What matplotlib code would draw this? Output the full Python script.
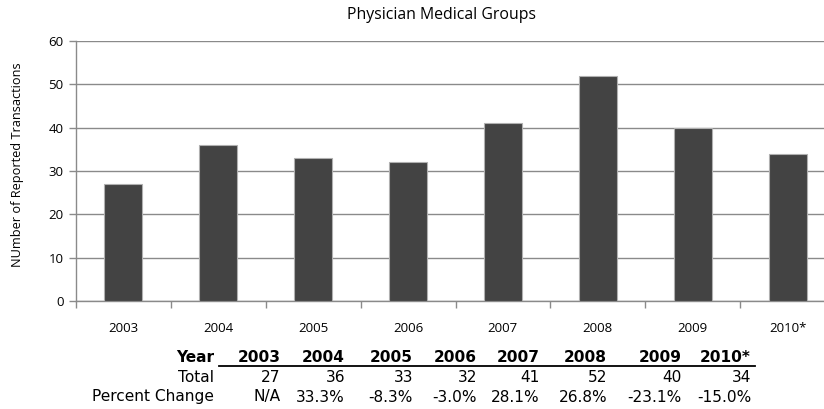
import matplotlib
matplotlib.use("Agg")
import matplotlib.pyplot as plt
import numpy as np

# transaction counts per year
years = ["2003", "2004", "2005", "2006", "2007", "2008", "2009", "2010*"]
totals = [27, 36, 33, 32, 41, 52, 40, 34]
pct_change = ["N/A", "33.3%", "-8.3%", "-3.0%", "28.1%", "26.8%", "-23.1%", "-15.0%"]
yticks = [0, 10, 20, 30, 40, 50, 60]

W, H = 824, 409
fig = plt.figure(figsize=(W / 100, H / 100), dpi=100)

# plot area runs a little past the right edge of the figure
ax = fig.add_axes([76 / W, 1 - 301 / H, 759 / W, 260 / H])

x = np.arange(len(years))
ax.bar(x, totals, width=0.4, color="#434343", edgecolor="#b0b0b0",
       linewidth=0.8, zorder=3)

ax.set_xlim(-0.5, len(years) - 0.5)
ax.set_ylim(0, 60)
ax.set_yticks(yticks)
ax.yaxis.grid(True, color="#8a8a8a", linewidth=1.0, zorder=0)
ax.set_axisbelow(True)

for s in ["top", "right"]:
    ax.spines[s].set_visible(False)
for s in ["left", "bottom"]:
    ax.spines[s].set_color("#8a8a8a")
    ax.spines[s].set_linewidth(1.0)

ax.set_xticks(x)
ax.set_xticklabels(years, fontfamily="Open Sans", fontsize=9.5)
ax.set_xticks(np.arange(len(years) + 1) - 0.5, minor=True)
ax.tick_params(axis="x", which="major", length=0, pad=15)
ax.tick_params(axis="x", which="minor", length=5, color="#8a8a8a", width=1.0)
ax.tick_params(axis="y", length=5, color="#8a8a8a", width=1.0, pad=4,
               labelsize=9.5)
for lbl in ax.get_yticklabels():
    lbl.set_fontfamily("Open Sans")

ax.set_ylabel("NUmber of Reported Transactions", fontfamily="Open Sans",
              fontsize=9.2)
ax.yaxis.set_label_coords(-0.068, 0.523)

fig.text(441 / W, 1 - 15 / H, "Physician Medical Groups",
         fontfamily="Open Sans", fontsize=11.4, ha="center", va="center")

# summary table under the chart
col_right = [281, 345, 413, 477, 540, 607, 682, 751]
row_y = [357, 377, 397]
lab_x = 214
tkw = dict(fontfamily="DejaVu Sans", fontsize=11.1, ha="right", va="center")

fig.text(lab_x / W, 1 - row_y[0] / H, "Year", fontweight="bold", **tkw)
fig.text(lab_x / W, 1 - row_y[1] / H, "Total", **tkw)
fig.text(lab_x / W, 1 - row_y[2] / H, "Percent Change", **tkw)
for i in range(len(years)):
    cx = col_right[i] / W
    fig.text(cx, 1 - row_y[0] / H, years[i], fontweight="bold", **tkw)
    fig.text(cx, 1 - row_y[1] / H, str(totals[i]), **tkw)
    fig.text(cx, 1 - row_y[2] / H, pct_change[i], **tkw)

fig.add_artist(plt.Line2D([219 / W, 755 / W], [1 - 366 / H, 1 - 366 / H],
                          color="black", linewidth=1.3))

fig.savefig("out.png", dpi=100)
